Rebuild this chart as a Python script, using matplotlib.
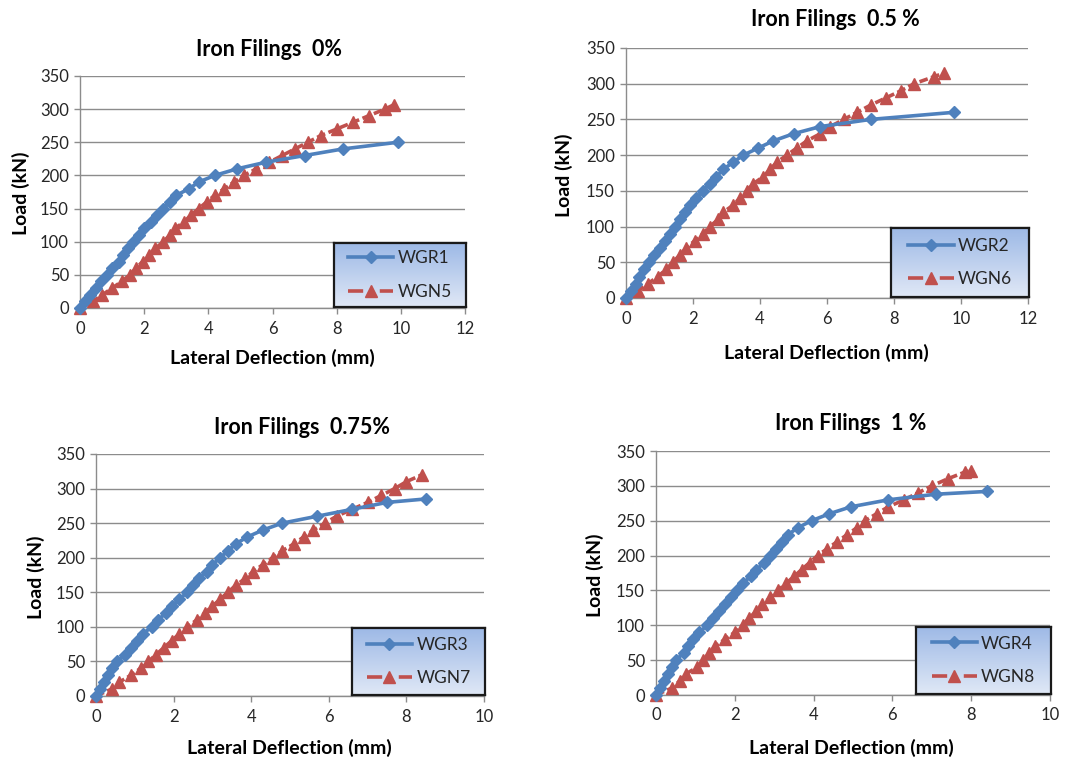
import matplotlib
matplotlib.use('Agg')
import matplotlib.pyplot as plt
import numpy as np
from matplotlib.lines import Line2D

plt.rcParams['font.family'] = ['Lato', 'DejaVu Sans']

# ---------------- data ----------------
titles = ["Iron Filings  0%", "Iron Filings  0.5 %", "Iron Filings  0.75%", "Iron Filings  1 %"]
labels_r = ["WGR1", "WGR2", "WGR3", "WGR4"]
labels_n = ["WGN5", "WGN6", "WGN7", "WGN8"]
x_max = [12, 12, 10, 10]
x_label = "Lateral Deflection (mm)"
y_label = "Load (kN)"

wgr1_x = [0, 0.15, 0.3, 0.5, 0.65, 0.85, 1.0, 1.2, 1.35, 1.5, 1.65, 1.85, 2.0, 2.2, 2.4, 2.6, 2.8, 3.0, 3.4, 3.7, 4.2, 4.9, 5.8, 7.0, 8.2, 9.9]
wgr1_y = [0, 10, 20, 30, 40, 50, 60, 70, 80, 90, 100, 110, 120, 130, 140, 150, 160, 170, 180, 190, 200, 210, 220, 230, 240, 250]
wgn5_x = [0, 0.4, 0.7, 1.0, 1.3, 1.55, 1.75, 1.95, 2.15, 2.35, 2.6, 2.8, 2.95, 3.25, 3.45, 3.7, 3.95, 4.2, 4.5, 4.8, 5.1, 5.5, 5.9, 6.3, 6.7, 7.1, 7.5, 8.0, 8.5, 9.0, 9.5, 9.8]
wgn5_y = [0, 10, 20, 30, 40, 50, 60, 70, 80, 90, 100, 110, 120, 130, 140, 150, 160, 170, 180, 190, 200, 210, 220, 230, 240, 250, 260, 270, 280, 290, 300, 307]

wgr2_x = [0, 0.15, 0.3, 0.4, 0.55, 0.7, 0.85, 1.0, 1.15, 1.3, 1.45, 1.6, 1.75, 1.9, 2.1, 2.3, 2.5, 2.7, 2.9, 3.2, 3.5, 3.95, 4.4, 5.0, 5.8, 7.3, 9.8]
wgr2_y = [0, 10, 20, 30, 40, 50, 60, 70, 80, 90, 100, 110, 120, 130, 140, 150, 160, 170, 180, 190, 200, 210, 220, 230, 240, 250, 260]
wgn6_x = [0, 0.35, 0.65, 0.95, 1.2, 1.4, 1.6, 1.8, 2.05, 2.3, 2.5, 2.75, 2.9, 3.2, 3.4, 3.6, 3.8, 4.1, 4.3, 4.5, 4.8, 5.1, 5.4, 5.8, 6.1, 6.5, 6.9, 7.3, 7.75, 8.2, 8.6, 9.2, 9.5]
wgn6_y = [0, 10, 20, 30, 40, 50, 60, 70, 80, 90, 100, 110, 120, 130, 140, 150, 160, 170, 180, 190, 200, 210, 220, 230, 240, 250, 260, 270, 280, 290, 300, 310, 315]

wgr3_x = [0, 0.1, 0.2, 0.3, 0.4, 0.55, 0.75, 0.9, 1.05, 1.2, 1.45, 1.6, 1.8, 1.95, 2.15, 2.35, 2.5, 2.65, 2.85, 3.0, 3.2, 3.4, 3.6, 3.9, 4.3, 4.8, 5.7, 6.6, 7.5, 8.5]
wgr3_y = [0, 10, 20, 30, 40, 50, 60, 70, 80, 90, 100, 110, 120, 130, 140, 150, 160, 170, 180, 190, 200, 210, 220, 230, 240, 250, 260, 270, 280, 285]
wgn7_x = [0, 0.4, 0.6, 0.9, 1.15, 1.35, 1.55, 1.75, 1.95, 2.15, 2.35, 2.6, 2.8, 3.0, 3.2, 3.4, 3.6, 3.85, 4.05, 4.3, 4.55, 4.8, 5.1, 5.35, 5.6, 5.9, 6.2, 6.6, 7.0, 7.35, 7.7, 8.0, 8.4]
wgn7_y = [0, 10, 20, 30, 40, 50, 60, 70, 80, 90, 100, 110, 120, 130, 140, 150, 160, 170, 180, 190, 200, 210, 220, 230, 240, 250, 260, 270, 280, 290, 300, 310, 320]

wgr4_x = [0, 0.1, 0.2, 0.3, 0.4, 0.5, 0.7, 0.8, 0.95, 1.1, 1.3, 1.45, 1.6, 1.75, 1.9, 2.05, 2.2, 2.4, 2.55, 2.75, 2.9, 3.05, 3.2, 3.35, 3.6, 3.95, 4.4, 4.95, 5.9, 7.1, 8.4]
wgr4_y = [0, 10, 20, 30, 40, 50, 60, 70, 80, 90, 100, 110, 120, 130, 140, 150, 160, 170, 180, 190, 200, 210, 220, 230, 240, 250, 260, 270, 280, 288, 292]
wgn8_x = [0, 0.4, 0.6, 0.75, 1.05, 1.2, 1.35, 1.5, 1.75, 2.0, 2.2, 2.35, 2.55, 2.7, 2.9, 3.1, 3.3, 3.5, 3.7, 3.9, 4.1, 4.35, 4.6, 4.85, 5.1, 5.3, 5.6, 5.9, 6.3, 6.65, 7.0, 7.4, 7.85, 8.0]
wgn8_y = [0, 10, 20, 30, 40, 50, 60, 70, 80, 90, 100, 110, 120, 130, 140, 150, 160, 170, 180, 190, 200, 210, 220, 230, 240, 250, 260, 270, 280, 290, 300, 310, 320, 322]

series_r = [(wgr1_x, wgr1_y), (wgr2_x, wgr2_y), (wgr3_x, wgr3_y), (wgr4_x, wgr4_y)]
series_n = [(wgn5_x, wgn5_y), (wgn6_x, wgn6_y), (wgn7_x, wgn7_y), (wgn8_x, wgn8_y)]

# ---------------- layout (pixels) ----------------
W, H = 1080, 762
BLUE = '#4F81BD'
RED = '#C0504D'
GRID = '#8c8c8c'
TXT = '#262626'

axes_px = [(80, 76, 465, 308), (626, 48, 1028, 298), (96, 454, 484, 696), (656, 451, 1050, 695)]
title_px = [(269, 50), (835, 20), (302, 427), (851, 423)]
xlab_px = [(272, 358), (826, 353), (289, 748), (851, 748)]
ylab_px = [(21, 193), (564, 175), (36, 577), (595, 575)]

fig = plt.figure(figsize=(W / 100, H / 100), dpi=100)
fig.patch.set_facecolor('white')

grad_top = np.array([157, 185, 230]) / 255
grad_bot = np.array([224, 232, 246]) / 255
t = np.linspace(0, 1, 100)[:, None, None]
gradient = grad_top * (1 - t) + grad_bot * t

for i in range(4):
    l, tp, r, b = axes_px[i]
    ax = fig.add_axes([l / W, 1 - b / H, (r - l) / W, (b - tp) / H])
    xr, yr = series_r[i]
    xn, yn = series_n[i]
    ax.plot(xn, yn, color=RED, lw=2.6, ls=(0, (2.4, 1.0)), marker='^', ms=8,
            clip_on=False, zorder=3)
    ax.plot(xr, yr, color=BLUE, lw=2.6, marker='D', ms=6.5, clip_on=False, zorder=4)
    ax.set_xlim(0, x_max[i])
    ax.set_ylim(0, 350)
    ax.set_xticks(range(0, x_max[i] + 1, 2))
    ax.set_yticks(range(0, 351, 50))
    ax.grid(axis='y', color=GRID, lw=1)
    ax.set_axisbelow(True)
    for s in ['top', 'right']:
        ax.spines[s].set_visible(False)
    for s in ['left', 'bottom']:
        ax.spines[s].set_color(GRID)
        ax.spines[s].set_linewidth(1)
    ax.tick_params(direction='out', length=4, width=1, color=GRID,
                   labelsize=12, labelcolor=TXT)
    ax.tick_params(axis='y', pad=4)
    ax.tick_params(axis='x', pad=5)

    # legend box with gradient
    lax = ax.inset_axes([0.66, 0.005, 0.343, 0.275])
    lax.imshow(gradient, extent=[0, 1, 0, 1], aspect='auto')
    lax.set_xlim(0, 1)
    lax.set_ylim(0, 1)
    lax.set_xticks([])
    lax.set_yticks([])
    for s in lax.spines.values():
        s.set_color('#1a1a1a')
        s.set_linewidth(1.6)
    h_r = Line2D([], [], color=BLUE, lw=2.6, marker='D', ms=6.5)
    h_n = Line2D([], [], color=RED, lw=2.6, ls=(0, (4.2, 4.6)), marker='^', ms=8)
    lax.legend([h_r, h_n], [labels_r[i], labels_n[i]], loc='center', frameon=False,
               fontsize=12.5, handlelength=2.6, handletextpad=0.25, labelspacing=1.0,
               borderaxespad=0, labelcolor=TXT)

    fig.text(title_px[i][0] / W, 1 - title_px[i][1] / H, titles[i], fontsize=15.5,
             fontweight='bold', ha='center', va='center', color='black')
    fig.text(xlab_px[i][0] / W, 1 - xlab_px[i][1] / H, x_label, fontsize=14,
             fontweight='bold', ha='center', va='center', color='black')
    fig.text(ylab_px[i][0] / W, 1 - ylab_px[i][1] / H, y_label, fontsize=14,
             fontweight='bold', ha='center', va='center', rotation=90, color='black')

fig.savefig('out.png', dpi=100, facecolor='white')
